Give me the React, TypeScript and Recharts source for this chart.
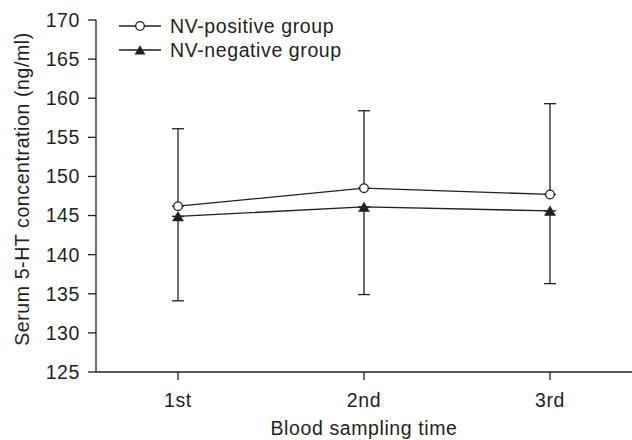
import React from 'react';
import {
  LineChart,
  Line,
  XAxis,
  YAxis,
  ErrorBar,
  Legend,
} from 'recharts';

const times = ['1st', '2nd', '3rd'];
const positiveMean = [146.2, 148.5, 147.7];
const positiveSd = [9.9, 9.9, 11.6];
const negativeMean = [144.9, 146.1, 145.6];
const negativeSd = [10.8, 11.2, 9.3];
const yTicks = [125, 130, 135, 140, 145, 150, 155, 160, 165, 170];

const data = times.map((t, i) => ({
  time: t,
  pos: positiveMean[i],
  posErr: [0, positiveSd[i]],
  neg: negativeMean[i],
  negErr: [negativeSd[i], 0],
}));

const FONT = '"Liberation Sans", Arial, sans-serif';
const INK = '#231f20';
const textStyle = { fontFamily: FONT, fontSize: 19.5, letterSpacing: 0.6, fill: INK };

const CircleDot = (props: any) => {
  const { cx, cy } = props;
  if (cx == null || cy == null) return null;
  return <circle cx={cx} cy={cy} r={4.3} fill="#fff" stroke={INK} strokeWidth={1.3} />;
};

const TriangleDot = (props: any) => {
  const { cx, cy } = props;
  if (cx == null || cy == null) return null;
  return (
    <path
      d={`M${cx},${cy - 4.8} L${cx + 5.4},${cy + 4.6} L${cx - 5.4},${cy + 4.6} Z`}
      fill={INK}
      stroke={INK}
      strokeWidth={0.6}
    />
  );
};

const LegendBox = () => (
  <svg width={260} height={50} style={{ display: 'block' }}>
    <line x1={4} y1={14} x2={46} y2={14} stroke={INK} strokeWidth={1.3} />
    <circle cx={25} cy={14} r={4.3} fill="#fff" stroke={INK} strokeWidth={1.3} />
    <text x={55} y={14} dominantBaseline="central" style={textStyle}>
      NV-positive group
    </text>
    <line x1={4} y1={38} x2={46} y2={38} stroke={INK} strokeWidth={1.3} />
    <path d="M25,33.2 L30.4,42.6 L19.6,42.6 Z" fill={INK} />
    <text x={55} y={38} dominantBaseline="central" style={textStyle}>
      NV-negative group
    </text>
  </svg>
);

const YLabel = () => (
  <text
    x={22}
    y={189}
    transform="rotate(-90 22 189)"
    textAnchor="middle"
    dominantBaseline="central"
    style={textStyle}
  >
    Serum 5-HT concentration (ng/ml)
  </text>
);

const XLabel = () => (
  <text x={364} y={428} textAnchor="middle" dominantBaseline="central" style={textStyle}>
    Blood sampling time
  </text>
);

export default function App() {
  return (
    <div style={{ position: 'absolute', left: 0, top: 0, background: '#fff' }}>
      <LineChart width={632} height={440} data={data} margin={{ top: 20, right: 0, bottom: 0, left: 0 }}>
        <XAxis
          dataKey="time"
          scale="point"
          padding={{ left: 82, right: 82 }}
          height={68}
          interval={0}
          stroke={INK}
          strokeWidth={1.3}
          tickSize={8}
          tickMargin={13}
          tick={textStyle}
          tickLine={{ stroke: INK, strokeWidth: 1.3 }}
          label={<XLabel />}
        />
        <YAxis
          domain={[125, 170]}
          ticks={yTicks}
          width={96}
          stroke={INK}
          strokeWidth={1.3}
          tickSize={8}
          tickMargin={8}
          tick={textStyle}
          tickLine={{ stroke: INK, strokeWidth: 1.3 }}
          label={<YLabel />}
        />
        <Legend
          layout="horizontal"
          verticalAlign="middle"
          align="center"
          content={<LegendBox />}
          wrapperStyle={{ position: 'absolute', left: 115, top: 12, width: 260, height: 50 }}
        />
        <Line
          dataKey="pos"
          name="NV-positive group"
          stroke={INK}
          strokeWidth={1.3}
          dot={<CircleDot />}
          activeDot={false}
          isAnimationActive={false}
        >
          <ErrorBar dataKey="posErr" width={6} stroke={INK} strokeWidth={1.3} direction="y" />
        </Line>
        <Line
          dataKey="neg"
          name="NV-negative group"
          stroke={INK}
          strokeWidth={1.3}
          dot={<TriangleDot />}
          activeDot={false}
          isAnimationActive={false}
        >
          <ErrorBar dataKey="negErr" width={6} stroke={INK} strokeWidth={1.3} direction="y" />
        </Line>
      </LineChart>
    </div>
  );
}
